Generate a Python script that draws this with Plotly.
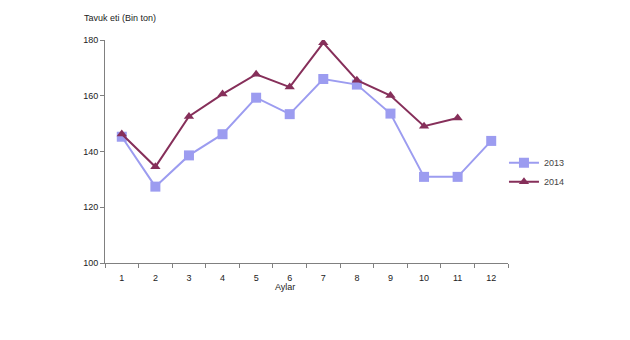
import plotly.graph_objects as go

months = list(range(1, 13))
tick_labels = [str(m) for m in months]
y2013 = [145.3, 127.4, 138.6, 146.2, 159.3, 153.4, 166.0, 164.0, 153.6, 130.9, 130.9, 143.8]
y2014 = [146.3, 134.5, 152.6, 160.6, 167.7, 163.1, 179.0, 165.6, 160.1, 149.1, 152.0]

c2013 = "#9c9cf0"
c2014 = "#862f5a"

fig = go.Figure()
fig.add_trace(go.Scatter(x=months, y=y2013, name="2013", mode="lines+markers",
                         line=dict(color=c2013, width=2),
                         marker=dict(symbol="square", size=10, color=c2013)))
fig.add_trace(go.Scatter(x=months[:len(y2014)], y=y2014, name="2014", mode="lines+markers",
                         line=dict(color=c2014, width=2),
                         marker=dict(symbol="triangle-up", size=9, color=c2014)))

font = dict(family="Liberation Sans, Arial, sans-serif", size=9, color="#222222")

fig.update_layout(
    width=630, height=340,
    margin=dict(l=105, r=122, t=40, b=77),
    paper_bgcolor="white", plot_bgcolor="white",
    font=font,
    showlegend=True,
    legend=dict(x=0.99, y=0.515, xanchor="left", yanchor="top",
                bgcolor="rgba(0,0,0,0)", font=dict(size=9, color="#444444"),
                tracegroupgap=0, itemwidth=30),
    xaxis=dict(range=[0.5, 12.5], tickmode="array", tickvals=months, ticktext=tick_labels,
               ticks="", ticklabelstandoff=6, showgrid=False, zeroline=False,
               showline=True, linecolor="#808080", linewidth=1,
               minor=dict(tick0=0.5, dtick=1, ticks="outside", ticklen=4, tickcolor="#808080",
                          showgrid=False)),
    yaxis=dict(range=[100, 180], tickvals=[100, 120, 140, 160, 180],
               ticks="outside", ticklen=4, tickcolor="#808080",
               showgrid=False, zeroline=False,
               showline=True, linecolor="#808080", linewidth=1),
    annotations=[
        dict(text="Tavuk eti (Bin ton)", xref="paper", yref="paper", x=-0.058, y=1.097,
             xanchor="left", yanchor="middle", showarrow=False, font=dict(size=9, color="#222222")),
        dict(text="Aylar", xref="paper", yref="paper", x=0.447, y=-0.108,
             xanchor="center", yanchor="middle", showarrow=False, font=dict(size=9, color="#222222")),
    ],
)

fig.write_html("out.html")
